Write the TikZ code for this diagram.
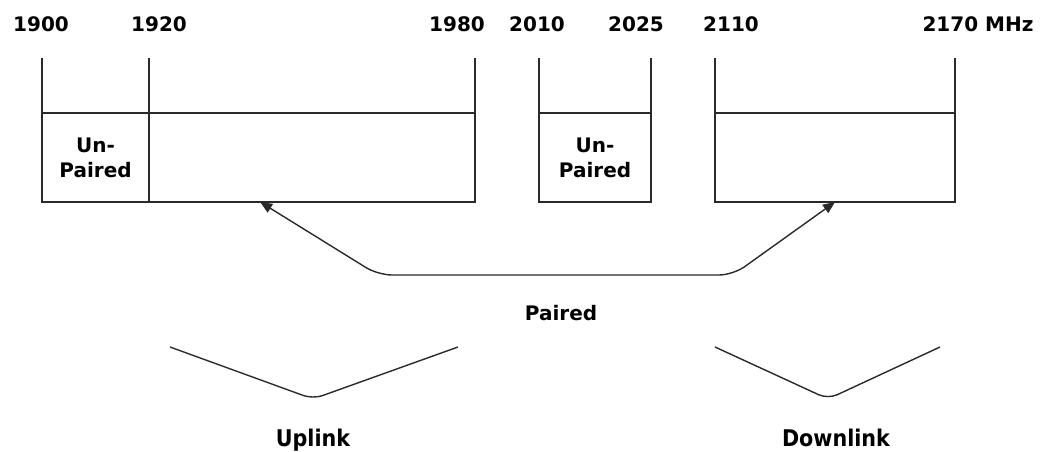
\documentclass[tikz,border=0pt]{standalone}
\usepackage{fontspec}
\setmainfont{DejaVu Sans}
\newfontfamily\condfont{DejaVu Sans Condensed}
\usetikzlibrary{arrows.meta,calc}
\definecolor{ink}{HTML}{2A2A2A}
\begin{document}
\begin{tikzpicture}[x=1pt,y=-1pt,
  band/.style={draw=ink, line width=1.4pt, minimum height=89pt, inner sep=0pt,
    outer sep=0pt, anchor=north west, align=center, text=black,
    font=\bfseries\fontsize{20}{25}\selectfont},
  freq/.style={anchor=base, inner sep=0pt, text=black,
    font=\bfseries\fontsize{20}{24}\selectfont},
  dirlabel/.style={anchor=base, inner sep=0pt, text=black,
    font=\condfont\bfseries\fontsize{23}{27}\selectfont},
  tick/.style={draw=ink, line width=1.4pt},
  pairline/.style={draw=ink, line width=1.4pt, rounded corners=14pt,
    {Triangle[length=12pt,width=10pt]}-{Triangle[length=12pt,width=10pt]}},
  brace/.style={draw=ink, line width=1.4pt, rounded corners=10pt}
]
\useasboundingbox (0,0) rectangle (1042,452);

% frequency bands
\node[band, minimum width=107pt] (unpA) at (42,113) {Un-\\Paired};
\node[band, minimum width=326pt] (upl) at (149,113) {};
\node[band, minimum width=112pt] (unpB) at (539,113) {Un-\\Paired};
\node[band, minimum width=240pt] (dnl) at (715,113) {};

% band edges rising to the scale
\draw[tick] (unpA.north west) -- ++(0,-55);
\draw[tick] (upl.north west) -- ++(0,-55);
\draw[tick] (upl.north east) -- ++(0,-55);
\draw[tick] (unpB.north west) -- ++(0,-55);
\draw[tick] (unpB.north east) -- ++(0,-55);
\draw[tick] (dnl.north west) -- ++(0,-55);
\draw[tick] (dnl.north east) -- ++(0,-55);

% frequency scale (MHz)
\node[freq] (f1900) at (41,32) {1900};
\node[freq] (f1920) at (159,32) {1920};
\node[freq] (f1980) at (457,32) {1980};
\node[freq] (f2010) at (537,32) {2010};
\node[freq] (f2025) at (636,32) {2025};
\node[freq] (f2110) at (731,32) {2110};
\node[freq] (f2170) at (978,32) {2170 MHz};

% pairing of uplink and downlink bands
\coordinate (pairL) at ($(upl.south west)!0.341!(upl.south east)$);
\coordinate (pairR) at ($(dnl.south west)!0.5!(dnl.south east)$);
\draw[pairline] (pairL) -- (378,275) -- (733,275) -- (pairR);
\node[freq] (paired) at (561,320) {Paired};

% uplink / downlink braces
\coordinate (ulA) at (170,347);
\coordinate (ulB) at (458,347);
\coordinate (dlA) at (715,347);
\coordinate (dlB) at (940,347);
\draw[brace] (ulA) -- (313,399) -- (ulB);
\draw[brace] (dlA) -- (828,399) -- (dlB);
\node[dirlabel] (uplink) at (313,446) {Uplink};
\node[dirlabel] (downlink) at (836,446) {Downlink};
\end{tikzpicture}
\end{document}
